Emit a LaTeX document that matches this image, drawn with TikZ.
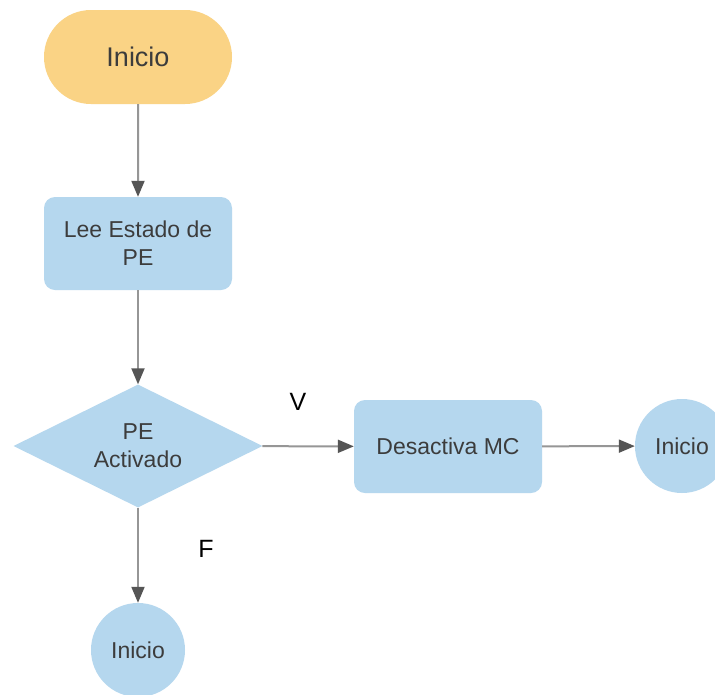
\documentclass[tikz,border=0pt]{standalone}
\usepackage{fontspec}
\setmainfont{Liberation Sans}
\usetikzlibrary{shapes.geometric,shapes.misc,arrows.meta}
\definecolor{startfill}{RGB}{250,211,133}
\definecolor{procfill}{RGB}{181,215,238}
\definecolor{linkgray}{RGB}{150,150,150}
\definecolor{headgray}{RGB}{85,85,85}
\definecolor{labeltext}{RGB}{60,60,60}
\tikzset{
  base/.style={inner sep=0pt, text=labeltext, align=center,
    font=\fontsize{23}{28}\selectfont},
  terminal/.style={base, rounded rectangle, fill=startfill,
    minimum width=188pt, minimum height=94pt,
    font=\fontsize{27}{32}\selectfont},
  process/.style={base, rectangle, rounded corners=11pt, fill=procfill,
    minimum width=188pt, minimum height=93pt},
  decision/.style={base, diamond, shape aspect=2, fill=procfill,
    minimum width=249pt, minimum height=123pt},
  connector/.style={base, circle, fill=procfill, minimum size=94pt},
  flow/.style={draw=linkgray, line width=2pt,
    -{Triangle[length=16pt,width=13pt,fill=headgray,color=headgray]}},
  branch/.style={inner sep=0pt, text=black, font=\fontsize{25}{30}\selectfont}
}
\begin{document}
\begin{tikzpicture}[x=1pt,y=-1pt]
  \useasboundingbox (0,0) rectangle (715,694);
  \clip (0,0) rectangle (715,694);
  \fill[white] (0,0) rectangle (715,694);

  \node[terminal] (start) at (138,57) {Inicio};
  \node[process] (read) at (138,243.5) {Lee Estado de\\PE};
  \node[decision] (check) at (138,446) {PE\\Activado};
  \node[process] (off) at (448,446.5) {Desactiva MC};
  \node[connector] (endR) at (682,446) {Inicio};
  \node[connector] (endB) at (138,650) {Inicio};

  \node[branch] (vlab) at (298,402) {V};
  \node[branch] (flab) at (206,549) {F};

  \draw[flow] (start) -- (read);
  \draw[flow] (read) -- (check);
  \draw[flow] (check) -- (off);
  \draw[flow] (off) -- (endR);
  \draw[flow] (check) -- (endB);
\end{tikzpicture}
\end{document}
